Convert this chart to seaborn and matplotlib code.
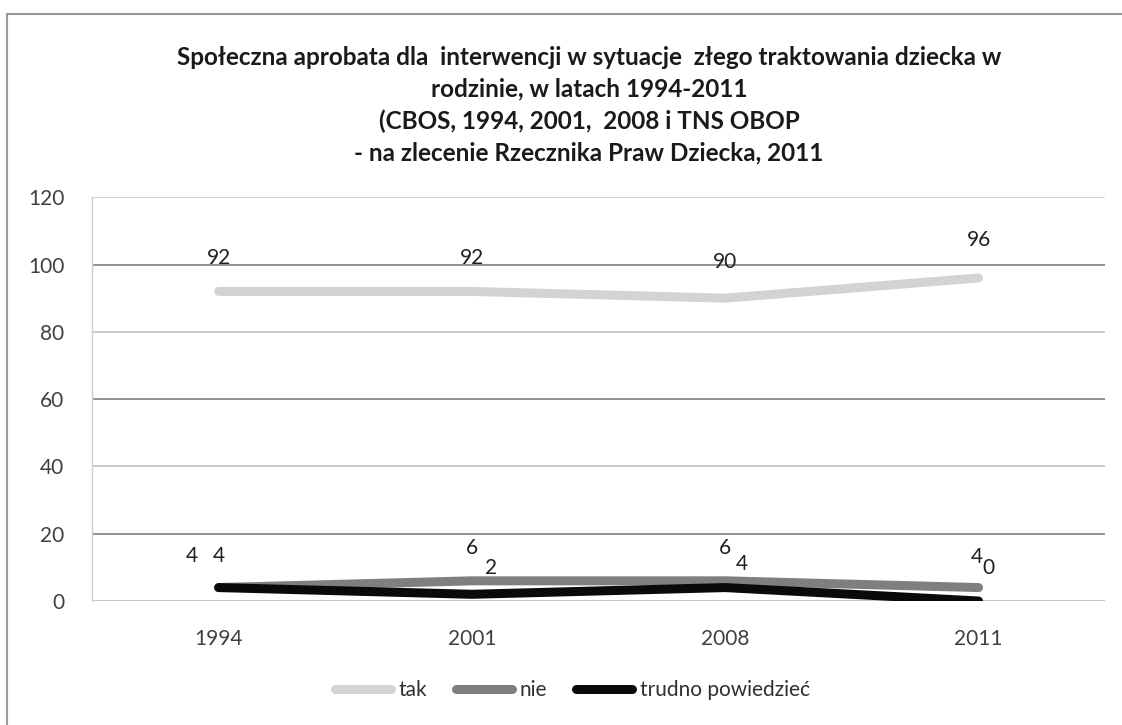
import numpy as np
import matplotlib
matplotlib.use('Agg')
import matplotlib.pyplot as plt
import seaborn as sns
import pandas as pd
from matplotlib.patches import Rectangle

years = ['1994', '2001', '2008', '2011']
tak = [92, 92, 90, 96]
nie = [4, 6, 6, 4]
trudno = [4, 2, 4, 0]
series_names = ['tak', 'nie', 'trudno powiedzieć']

title = ('Społeczna aprobata dla  interwencji w sytuacje  złego traktowania dziecka w\n'
         'rodzinie, w latach 1994-2011\n'
         '(CBOS, 1994, 2001,  2008 i TNS OBOP\n'
         '- na zlecenie Rzecznika Praw Dziecka, 2011')

df = pd.DataFrame({
    'rok': years * 3,
    'wartosc': tak + nie + trudno,
    'seria': [series_names[0]] * 4 + [series_names[1]] * 4 + [series_names[2]] * 4,
})

sns.set_style('white')
plt.rcParams['font.family'] = ['Lato', 'DejaVu Sans']

colors = {'tak': '#d3d3d3', 'nie': '#7f7f7f', 'trudno powiedzieć': '#0a0a0a'}

fig = plt.figure(figsize=(11.22, 7.25), dpi=100)
ax = fig.add_axes([0.082, 0.171, 0.903, 0.557])

sns.lineplot(data=df, x='rok', y='wartosc', hue='seria', hue_order=series_names,
             palette=colors, linewidth=6.5, ax=ax, sort=False,
             solid_capstyle='round')

ax.set_xlim(-0.5, 3.5)
ax.set_ylim(0, 120)
ax.set_yticks(range(0, 121, 20))
ax.set_xticks(range(len(years)))
ax.set_xticklabels(years)
ax.set_xticks([-0.5, 0.5, 1.5, 2.5, 3.5], minor=True)
ax.tick_params(axis='x', which='major', length=0, pad=20, labelsize=15, labelcolor='#404040')
ax.tick_params(axis='x', which='minor', length=7, width=1, color='#b0b0b0', direction='out')
ax.tick_params(axis='y', length=9, width=1, color='#c8c8c8', pad=11, labelsize=15, labelcolor='#404040')
ax.set_xlabel('')
ax.set_ylabel('')

# gridlines (scan makes some darker)
grid_cols = {0: '#c0c0c0', 20: '#8a8a8a', 40: '#c8c8c8', 60: '#8a8a8a', 80: '#c8c8c8', 100: '#8a8a8a', 120: '#d0d0d0'}
for v, c in grid_cols.items():
    ax.axhline(v, color=c, linewidth=1.3, zorder=0)

for s in ['top', 'right', 'bottom']:
    ax.spines[s].set_visible(False)
ax.spines['left'].set_color('#d0d0d0')
ax.spines['left'].set_linewidth(1)

# data labels
lab_kw = dict(textcoords='offset points', ha='center', va='center', fontsize=15, color='#202020')
tak_off = [(0, 24), (0, 24), (0, 26), (0, 27)]
nie_off = [(0, 23), (0, 24), (0, 24), (-1, 22)]
trudno_off = [(-19, 23), (14, 19), (12, 17), (7, 24)]
for i, y in enumerate(tak):
    ax.annotate(str(y), (i, y), xytext=tak_off[i], **lab_kw)
for i, y in enumerate(nie):
    ax.annotate(str(y), (i, y), xytext=nie_off[i], **lab_kw)
for i, y in enumerate(trudno):
    ax.annotate(str(y), (i, y), xytext=trudno_off[i], **lab_kw)

ax.legend(loc='center', bbox_to_anchor=(0.51, 0.048), bbox_transform=fig.transFigure,
          ncol=3, frameon=False, fontsize=15, handlelength=2.7, handletextpad=0.35,
          columnspacing=1.4, labelcolor='#303030')

fig.text(0.525, 0.855, title, ha='center', va='center', fontsize=17.5, fontweight='bold',
         linespacing=1.45, color='#1a1a1a')

# outer frame of the scanned chart
fig.patches.append(Rectangle((0.0065, -0.05), 1.2, 1.031, transform=fig.transFigure,
                             fill=False, edgecolor='#9a9a9a', linewidth=1.5))

fig.savefig('out.png', dpi=100)
